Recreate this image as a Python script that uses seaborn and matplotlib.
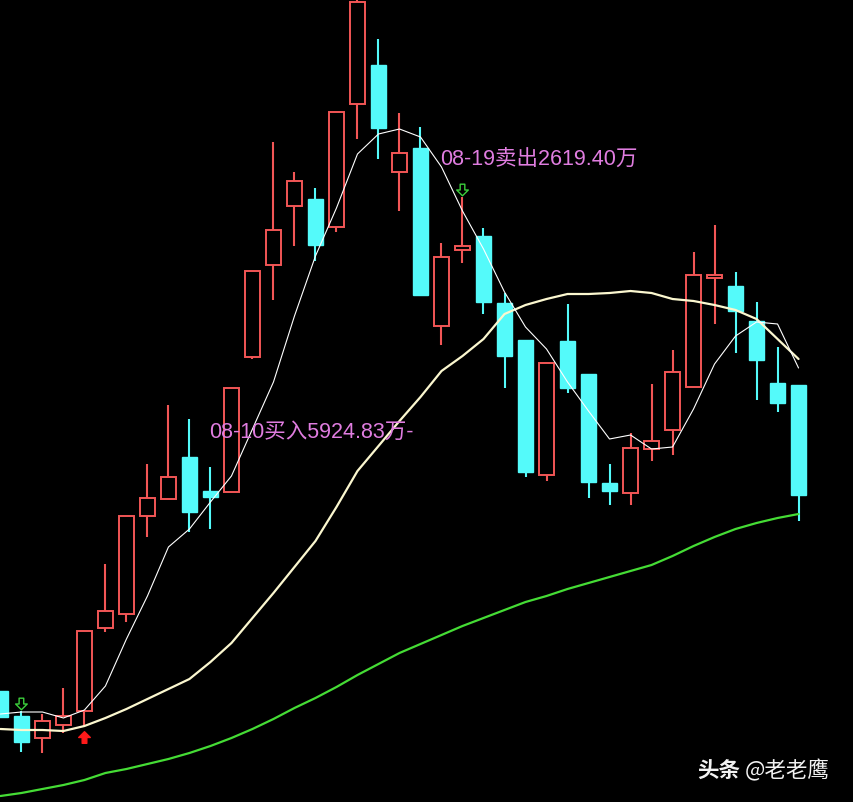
import numpy as np
import pandas as pd
import matplotlib
matplotlib.use('Agg')
import matplotlib.pyplot as plt
from matplotlib.path import Path
import seaborn as sns

# candle values (height above the bottom edge)
day = list(range(39))
open_ = [111, 86, 64, 77, 91, 174, 188, 286, 303, 345, 311, 310, 445, 537, 596, 603, 575, 698, 737, 630,
         654, 476, 552, 566, 499, 462, 327, 461, 428, 319, 309, 353, 372, 415, 524, 516, 481, 419, 417]
high = [111, 91, 88, 114, 171, 238, 286, 338, 397, 383, 335, 414, 531, 660, 630, 614, 690, 803, 763, 689,
        675, 559, 605, 574, 509, 462, 439, 498, 428, 338, 369, 418, 452, 550, 577, 530, 500, 455, 417]
low = [85, 50, 49, 69, 75, 170, 180, 265, 303, 270, 273, 310, 443, 502, 556, 541, 570, 663, 643, 591,
       506, 457, 539, 488, 414, 325, 321, 409, 304, 297, 297, 341, 347, 415, 478, 449, 402, 390, 281]
close = [85, 60, 81, 86, 171, 191, 286, 304, 325, 290, 305, 414, 531, 572, 621, 557, 690, 800, 674, 649,
         507, 545, 556, 500, 446, 330, 439, 414, 320, 311, 354, 361, 430, 527, 527, 491, 442, 399, 307]

ma_short = [88, 90, 90, 84, 92, 116, 163, 206, 255, 273, 300, 326, 373, 420, 486, 546, 594, 648, 668, 673,
            665, 635, 591, 553, 510, 475, 453, 420, 391, 363, 367, 353, 355, 393, 438, 466, 480, 478, 434]
ma_mid = [73, 72, 72, 71, 76, 84, 93, 103, 113, 123, 140, 159, 184, 209, 235, 261, 295, 331, 356, 381,
          405, 431, 446, 463, 488, 497, 503, 508, 508, 509, 511, 509, 503, 501, 497, 492, 483, 463, 443]
ma_long = [6, 9, 13, 17, 22, 29, 33, 38, 43, 49, 56, 64, 73, 83, 94, 104, 115, 127, 138, 149,
           158, 167, 176, 184, 192, 200, 206, 213, 219, 225, 231, 237, 246, 256, 265, 273, 279, 284, 288]

buy_text = '08-10买入5924.83万-'
sell_text = '08-19卖出2619.40万'

df = pd.DataFrame({'day': day, 'open': open_, 'high': high, 'low': low, 'close': close,
                   'ma_short': ma_short, 'ma_mid': ma_mid, 'ma_long': ma_long})
up = df['close'] >= df['open']

sns.set_style('dark', {'axes.facecolor': 'black', 'figure.facecolor': 'black'})
plt.rcParams['font.family'] = ['Noto Sans CJK SC', 'DejaVu Sans']

RED = '#f25656'
CYAN = '#54fafa'
PINK = '#e07de0'
label_font = ['Liberation Sans', 'Noto Sans CJK SC']

fig = plt.figure(figsize=(8.54, 8.03), dpi=100)
ax = fig.add_axes([0, 0, 1, 1])
ax.set_facecolor('black')

# wicks
ax.vlines(df['day'], df['low'], df['high'], colors=np.where(up, RED, CYAN), lw=1.5, zorder=1)

# bodies
body_lo = df[['open', 'close']].min(axis=1)
body_h = (df['close'] - df['open']).abs()
ax.bar(df['day'][up], body_h[up], bottom=body_lo[up], width=0.68,
       facecolor='black', edgecolor=RED, lw=1.4, zorder=2)
ax.bar(df['day'][~up], body_h[~up], bottom=body_lo[~up], width=0.68,
       facecolor=CYAN, edgecolor=CYAN, lw=1.0, zorder=2)

# moving averages
sns.lineplot(data=df, x='day', y='ma_long', color='#45dc35', lw=1.6, estimator=None, ax=ax, zorder=3)
sns.lineplot(data=df, x='day', y='ma_mid', color='#fbf7cf', lw=1.6, estimator=None, ax=ax, zorder=4)
sns.lineplot(data=df, x='day', y='ma_short', color='white', lw=0.8, estimator=None, ax=ax, zorder=5)

# signal arrows
down_arrow = Path([(-0.2, 0.5), (0.2, 0.5), (0.2, 0.0), (0.5, 0.0), (0.0, -0.5),
                   (-0.5, 0.0), (-0.2, 0.0), (-0.2, 0.5)],
                  [Path.MOVETO] + [Path.LINETO] * 6 + [Path.CLOSEPOLY])
up_arrow = Path([(-0.2, -0.5), (0.2, -0.5), (0.2, 0.0), (0.5, 0.0), (0.0, 0.5),
                 (-0.5, 0.0), (-0.2, 0.0), (-0.2, -0.5)],
                [Path.MOVETO] + [Path.LINETO] * 6 + [Path.CLOSEPOLY])
ax.scatter([1, 22], [98, 612], marker=down_arrow, s=70, facecolor='none',
           edgecolor='#3ccf3c', lw=1.0, zorder=6)
ax.scatter([4], [65], marker=up_arrow, s=70, color='#ff1a1a', zorder=6)

ax.text(9.93, 371, buy_text, color=PINK, fontsize=15.5, family=label_font,
        ha='left', va='center', zorder=7)
ax.text(20.93, 644, sell_text, color=PINK, fontsize=15.5, family=label_font,
        ha='left', va='center', zorder=7)

fig.text(697 / 854, 1 - 771 / 803, '头条', color='#f2f2f2', fontsize=15.5, fontweight='bold',
         ha='left', va='center')
fig.text(745 / 854, 1 - 771 / 803, '@老老鹰', color='#f2f2f2', fontsize=15.5,
         ha='left', va='center')

ax.set_xlim(-0.02, 40.64)
ax.set_ylim(0, 803)
ax.set_xlabel('')
ax.set_ylabel('')
ax.set_xticks([])
ax.set_yticks([])
for s in ax.spines.values():
    s.set_visible(False)

fig.savefig('out.png', dpi=100, facecolor='black')
